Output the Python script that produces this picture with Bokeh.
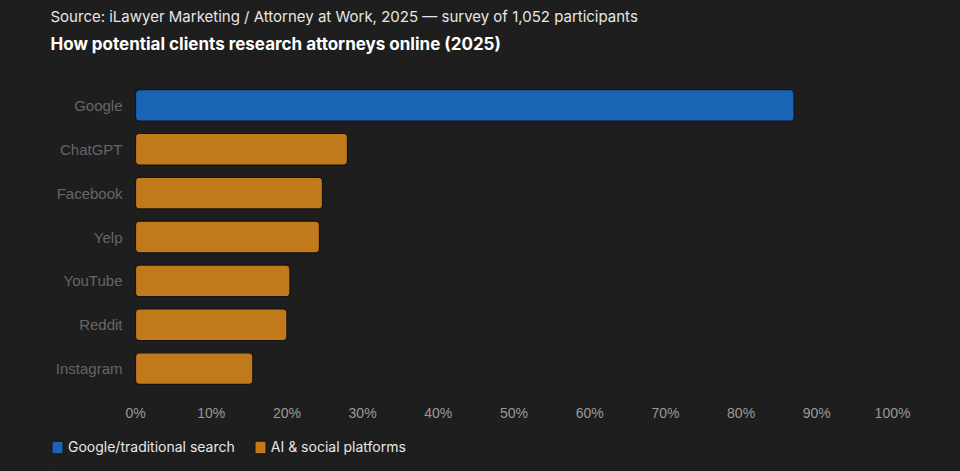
from bokeh.plotting import figure
from bokeh.layouts import column
from bokeh.models import (ColumnDataSource, Range1d, FactorRange, Label, Legend, LegendItem,
                          FixedTicker, CustomJSTickFormatter)
from bokeh.embed import file_html
from bokeh.resources import INLINE

platforms = ["Google", "ChatGPT", "Facebook", "Yelp", "YouTube", "Reddit", "Instagram"]
shares = [87.0, 28.0, 24.7, 24.3, 20.4, 20.0, 15.5]
groups = ["Google/traditional search", "AI & social platforms", "AI & social platforms",
          "AI & social platforms", "AI & social platforms", "AI & social platforms",
          "AI & social platforms"]
group_names = ["Google/traditional search", "AI & social platforms"]
group_colors = ["#1a64b6", "#c07a1c"]
x_ticks = [0, 10, 20, 30, 40, 50, 60, 70, 80, 90, 100]

source_text = "Source: iLawyer Marketing / Attorney at Work, 2025 \u2014 survey of 1,052 participants"
title_text = "How potential clients research attorneys online (2025)"

BG = "#1e1e1e"
BAR_LINE = "#141414"
W = 960
LEFT = 50      # common frame left for all strips
RIGHT = 68


def style(fig):
    fig.background_fill_color = BG
    fig.border_fill_color = BG
    fig.outline_line_color = None
    fig.styles = {"background-color": BG}
    return fig


# ---- header strip (source + title) ----
head = style(figure(width=W, height=83, output_backend="svg", toolbar_location=None,
                    x_axis_location=None, y_axis_location=None,
                    x_range=Range1d(0, 1), y_range=Range1d(0, 1),
                    min_border_left=LEFT, min_border_right=RIGHT, min_border_top=0, min_border_bottom=0))
head.grid.visible = False
head.add_layout(Label(x=0, y=83 - 16, x_units="screen", y_units="screen", text=source_text,
                      text_font="Inter", text_font_size="15px", text_color="#e6e6e6",
                      text_baseline="middle", text_align="left"))
head.add_layout(Label(x=0, y=83 - 43, x_units="screen", y_units="screen", text=title_text,
                      text_font="Inter", text_font_style="bold", text_font_size="17px",
                      text_color="#ffffff", text_baseline="middle", text_align="left"))

# ---- main chart ----
# frame spans x=50..892; 0% must sit at x=135 -> extend the range left of zero
frame_w = W - LEFT - RIGHT
zero_px = 135 - LEFT
x_start = -100.0 * zero_px / (frame_w - zero_px)

p = style(figure(width=W, height=347, output_backend="svg", toolbar_location=None,
                 y_range=FactorRange(factors=list(reversed(platforms)), range_padding=0),
                 x_range=Range1d(x_start, 100),
                 min_border_left=LEFT, min_border_right=RIGHT, min_border_top=0, min_border_bottom=40))
p.grid.visible = False

sources = []
for g in group_names:
    idx = [i for i, gg in enumerate(groups) if gg == g]
    sources.append(ColumnDataSource(dict(y=[platforms[i] for i in idx], x=[shares[i] for i in idx])))

for src, c in zip(sources, group_colors):
    p.hbar(y="y", right="x", left=0, height=0.72, source=src,
           fill_color=c, line_color=BAR_LINE, line_width=1.2, border_radius=4)

xa = p.xaxis[0]
xa.ticker = FixedTicker(ticks=x_ticks)
xa.formatter = CustomJSTickFormatter(code="return tick + '%'")
xa.axis_line_color = None
xa.major_tick_line_color = None
xa.minor_tick_line_color = None
xa.major_label_standoff = 8
xa.major_label_text_color = "#9a9a9a"
xa.major_label_text_font = "Liberation Sans"
xa.major_label_text_font_size = "14px"

ya = p.yaxis[0]
ya.axis_line_color = None
ya.major_tick_line_color = None
ya.minor_tick_line_color = None
ya.major_label_standoff = LEFT - 128   # labels end near x=122, inside the widened frame
ya.major_label_text_color = "#666666"
ya.major_label_text_font = "Liberation Sans"
ya.major_label_text_font_size = "15px"

# ---- legend strip: same data drawn outside its visible x-range, so only the legend shows ----
lg = style(figure(width=W, height=41, output_backend="svg", toolbar_location=None,
                  x_axis_location=None, y_axis_location=None,
                  y_range=FactorRange(factors=list(reversed(platforms))),
                  x_range=Range1d(1000, 1100),
                  min_border_left=LEFT, min_border_right=RIGHT, min_border_top=0, min_border_bottom=0))
lg.grid.visible = False
lg_renderers = []
for src, c in zip(sources, group_colors):
    lg_renderers.append(lg.hbar(y="y", right="x", left=0, height=0.72, source=src,
                                fill_color=c, line_color=BAR_LINE, line_width=1.2, border_radius=3))

legend = Legend(items=[LegendItem(label=g, renderers=[r]) for g, r in zip(group_names, lg_renderers)],
                orientation="horizontal", location=(0, 16),
                background_fill_alpha=0, border_line_color=None,
                label_text_color="#e8e8e8", label_text_font="Inter", label_text_font_size="14px",
                glyph_width=14, glyph_height=16, label_standoff=4, spacing=18,
                padding=0, margin=0)
lg.add_layout(legend, "center")

layout = column(head, p, lg, spacing=0)
layout.styles = {"background-color": BG}
open("out.html", "w").write(file_html(layout, INLINE))
